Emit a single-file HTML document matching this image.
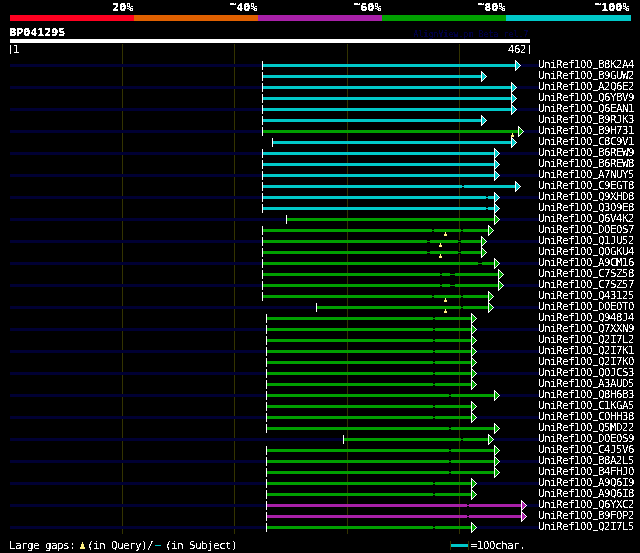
<!DOCTYPE html><html><head><meta charset="utf-8"><title>AlignView</title><style>html,body{margin:0;padding:0;background:#000;overflow:hidden}svg{display:block}text{white-space:pre;font-family:"DejaVu Sans Mono","Liberation Mono",monospace}.b{font-weight:bold;font-size:11px;fill:#fff}.r{font-size:11px;fill:#fff}.pp{font-size:9px}.dg{font-family:"DejaVu Sans","Liberation Sans",sans-serif;font-size:10px}.us{stroke:#fff;stroke-width:0.7px;font-size:8px}.tn{font-size:8px;fill:#000040}</style></head><body>
<svg width="640" height="553" viewBox="0 0 640 553">
<defs><filter id="crisp" x="0" y="0" width="100%" height="100%"><feComponentTransfer><feFuncA type="discrete" tableValues="0 0 0 1 1 1 1 1 1 1"/></feComponentTransfer></filter><filter id="crisp5" x="0" y="0" width="100%" height="100%"><feComponentTransfer><feFuncA type="discrete" tableValues="0 1"/></feComponentTransfer></filter><filter id="crisp2" x="0" y="0" width="100%" height="100%"><feComponentTransfer><feFuncA type="discrete" tableValues="0 1 1 1 1"/></feComponentTransfer></filter></defs>
<rect width="640" height="553" fill="#000"/>
<g shape-rendering="crispEdges"><rect x="10" y="15" width="124" height="6" fill="#ff0020"/><rect x="134" y="15" width="124" height="6" fill="#e06000"/><rect x="258" y="15" width="124" height="6" fill="#a820a8"/><rect x="382" y="15" width="124" height="6" fill="#00a000"/><rect x="506" y="15" width="125" height="6" fill="#00c8c8"/><rect x="10" y="39" width="520" height="4" fill="#fff"/><rect x="122" y="44" width="1" height="490" fill="#333300"/><rect x="234" y="44" width="1" height="490" fill="#333300"/><rect x="347" y="44" width="1" height="490" fill="#333300"/><rect x="459" y="44" width="1" height="490" fill="#333300"/><rect x="10" y="64" width="529" height="3" fill="#000033"/><rect x="263" y="64" width="252" height="3" fill="#00c8c8"/><rect x="262" y="61" width="1" height="9" fill="#fff"/><rect x="263" y="75" width="218" height="3" fill="#00c8c8"/><rect x="262" y="72" width="1" height="9" fill="#fff"/><rect x="10" y="86" width="529" height="3" fill="#000033"/><rect x="263" y="86" width="248" height="3" fill="#00c8c8"/><rect x="262" y="83" width="1" height="9" fill="#fff"/><rect x="263" y="97" width="248" height="3" fill="#00c8c8"/><rect x="262" y="94" width="1" height="9" fill="#fff"/><rect x="10" y="108" width="529" height="3" fill="#000033"/><rect x="263" y="108" width="248" height="3" fill="#00c8c8"/><rect x="262" y="105" width="1" height="9" fill="#fff"/><rect x="263" y="119" width="218" height="3" fill="#00c8c8"/><rect x="262" y="116" width="1" height="9" fill="#fff"/><rect x="10" y="130" width="529" height="3" fill="#000033"/><rect x="263" y="130" width="255" height="3" fill="#00a000"/><rect x="262" y="127" width="1" height="9" fill="#fff"/><rect x="512" y="133" width="1" height="2" fill="#fff080"/><rect x="511" y="135" width="3" height="2" fill="#fff080"/><rect x="273" y="141" width="238" height="3" fill="#00c8c8"/><rect x="272" y="138" width="1" height="9" fill="#fff"/><rect x="10" y="152" width="529" height="3" fill="#000033"/><rect x="263" y="152" width="231" height="3" fill="#00c8c8"/><rect x="262" y="149" width="1" height="9" fill="#fff"/><rect x="263" y="163" width="231" height="3" fill="#00c8c8"/><rect x="262" y="160" width="1" height="9" fill="#fff"/><rect x="10" y="174" width="529" height="3" fill="#000033"/><rect x="263" y="174" width="231" height="3" fill="#00c8c8"/><rect x="262" y="171" width="1" height="9" fill="#fff"/><rect x="263" y="185" width="252" height="3" fill="#00c8c8"/><rect x="462" y="185" width="2" height="3" fill="#000"/><rect x="462" y="186" width="2" height="1" fill="#00c8c8"/><rect x="262" y="182" width="1" height="9" fill="#fff"/><rect x="10" y="196" width="529" height="3" fill="#000033"/><rect x="263" y="196" width="231" height="3" fill="#00c8c8"/><rect x="486" y="196" width="2" height="3" fill="#000"/><rect x="486" y="197" width="2" height="1" fill="#00c8c8"/><rect x="262" y="193" width="1" height="9" fill="#fff"/><rect x="263" y="207" width="231" height="3" fill="#00c8c8"/><rect x="486" y="207" width="2" height="3" fill="#000"/><rect x="486" y="208" width="2" height="1" fill="#00c8c8"/><rect x="262" y="204" width="1" height="9" fill="#fff"/><rect x="10" y="218" width="529" height="3" fill="#000033"/><rect x="287" y="218" width="207" height="3" fill="#00a000"/><rect x="286" y="215" width="1" height="9" fill="#fff"/><rect x="263" y="229" width="225" height="3" fill="#00a000"/><rect x="432" y="229" width="2" height="3" fill="#000"/><rect x="432" y="230" width="2" height="1" fill="#00a000"/><rect x="461" y="229" width="2" height="3" fill="#000"/><rect x="461" y="230" width="2" height="1" fill="#00a000"/><rect x="262" y="226" width="1" height="9" fill="#fff"/><rect x="445" y="232" width="1" height="2" fill="#fff080"/><rect x="444" y="234" width="3" height="2" fill="#fff080"/><rect x="10" y="240" width="529" height="3" fill="#000033"/><rect x="263" y="240" width="218" height="3" fill="#00a000"/><rect x="427" y="240" width="3" height="3" fill="#000"/><rect x="427" y="241" width="3" height="1" fill="#00a000"/><rect x="458" y="240" width="3" height="3" fill="#000"/><rect x="458" y="241" width="3" height="1" fill="#00a000"/><rect x="262" y="237" width="1" height="9" fill="#fff"/><rect x="440" y="243" width="1" height="2" fill="#fff080"/><rect x="439" y="245" width="3" height="2" fill="#fff080"/><rect x="263" y="251" width="218" height="3" fill="#00a000"/><rect x="427" y="251" width="3" height="3" fill="#000"/><rect x="427" y="252" width="3" height="1" fill="#00a000"/><rect x="458" y="251" width="3" height="3" fill="#000"/><rect x="458" y="252" width="3" height="1" fill="#00a000"/><rect x="262" y="248" width="1" height="9" fill="#fff"/><rect x="440" y="254" width="1" height="2" fill="#fff080"/><rect x="439" y="256" width="3" height="2" fill="#fff080"/><rect x="10" y="262" width="529" height="3" fill="#000033"/><rect x="263" y="262" width="231" height="3" fill="#00a000"/><rect x="478" y="262" width="4" height="3" fill="#000"/><rect x="478" y="263" width="4" height="1" fill="#00a000"/><rect x="262" y="259" width="1" height="9" fill="#fff"/><rect x="263" y="273" width="235" height="3" fill="#00a000"/><rect x="440" y="273" width="2" height="3" fill="#000"/><rect x="440" y="274" width="2" height="1" fill="#00a000"/><rect x="450" y="273" width="5" height="3" fill="#000"/><rect x="450" y="274" width="5" height="1" fill="#00a000"/><rect x="262" y="270" width="1" height="9" fill="#fff"/><rect x="10" y="284" width="529" height="3" fill="#000033"/><rect x="263" y="284" width="235" height="3" fill="#00a000"/><rect x="440" y="284" width="2" height="3" fill="#000"/><rect x="440" y="285" width="2" height="1" fill="#00a000"/><rect x="450" y="284" width="5" height="3" fill="#000"/><rect x="450" y="285" width="5" height="1" fill="#00a000"/><rect x="262" y="281" width="1" height="9" fill="#fff"/><rect x="263" y="295" width="225" height="3" fill="#00a000"/><rect x="432" y="295" width="2" height="3" fill="#000"/><rect x="432" y="296" width="2" height="1" fill="#00a000"/><rect x="461" y="295" width="2" height="3" fill="#000"/><rect x="461" y="296" width="2" height="1" fill="#00a000"/><rect x="262" y="292" width="1" height="9" fill="#fff"/><rect x="445" y="298" width="1" height="2" fill="#fff080"/><rect x="444" y="300" width="3" height="2" fill="#fff080"/><rect x="10" y="306" width="529" height="3" fill="#000033"/><rect x="317" y="306" width="171" height="3" fill="#00a000"/><rect x="461" y="306" width="2" height="3" fill="#000"/><rect x="461" y="307" width="2" height="1" fill="#00a000"/><rect x="316" y="303" width="1" height="9" fill="#fff"/><rect x="445" y="309" width="1" height="2" fill="#fff080"/><rect x="444" y="311" width="3" height="2" fill="#fff080"/><rect x="267" y="317" width="204" height="3" fill="#00a000"/><rect x="433" y="317" width="2" height="3" fill="#000"/><rect x="433" y="318" width="2" height="1" fill="#00a000"/><rect x="266" y="314" width="1" height="9" fill="#fff"/><rect x="10" y="328" width="529" height="3" fill="#000033"/><rect x="267" y="328" width="204" height="3" fill="#00a000"/><rect x="433" y="328" width="2" height="3" fill="#000"/><rect x="433" y="329" width="2" height="1" fill="#00a000"/><rect x="266" y="325" width="1" height="9" fill="#fff"/><rect x="267" y="339" width="204" height="3" fill="#00a000"/><rect x="433" y="339" width="2" height="3" fill="#000"/><rect x="433" y="340" width="2" height="1" fill="#00a000"/><rect x="266" y="336" width="1" height="9" fill="#fff"/><rect x="10" y="350" width="529" height="3" fill="#000033"/><rect x="267" y="350" width="204" height="3" fill="#00a000"/><rect x="433" y="350" width="2" height="3" fill="#000"/><rect x="433" y="351" width="2" height="1" fill="#00a000"/><rect x="266" y="347" width="1" height="9" fill="#fff"/><rect x="267" y="361" width="204" height="3" fill="#00a000"/><rect x="433" y="361" width="2" height="3" fill="#000"/><rect x="433" y="362" width="2" height="1" fill="#00a000"/><rect x="266" y="358" width="1" height="9" fill="#fff"/><rect x="10" y="372" width="529" height="3" fill="#000033"/><rect x="267" y="372" width="204" height="3" fill="#00a000"/><rect x="433" y="372" width="2" height="3" fill="#000"/><rect x="433" y="373" width="2" height="1" fill="#00a000"/><rect x="266" y="369" width="1" height="9" fill="#fff"/><rect x="267" y="383" width="204" height="3" fill="#00a000"/><rect x="433" y="383" width="2" height="3" fill="#000"/><rect x="433" y="384" width="2" height="1" fill="#00a000"/><rect x="266" y="380" width="1" height="9" fill="#fff"/><rect x="10" y="394" width="529" height="3" fill="#000033"/><rect x="267" y="394" width="227" height="3" fill="#00a000"/><rect x="449" y="394" width="2" height="3" fill="#000"/><rect x="449" y="395" width="2" height="1" fill="#00a000"/><rect x="266" y="391" width="1" height="9" fill="#fff"/><rect x="267" y="405" width="204" height="3" fill="#00a000"/><rect x="433" y="405" width="2" height="3" fill="#000"/><rect x="433" y="406" width="2" height="1" fill="#00a000"/><rect x="266" y="402" width="1" height="9" fill="#fff"/><rect x="10" y="416" width="529" height="3" fill="#000033"/><rect x="267" y="416" width="204" height="3" fill="#00a000"/><rect x="433" y="416" width="2" height="3" fill="#000"/><rect x="433" y="417" width="2" height="1" fill="#00a000"/><rect x="266" y="413" width="1" height="9" fill="#fff"/><rect x="267" y="427" width="227" height="3" fill="#00a000"/><rect x="449" y="427" width="2" height="3" fill="#000"/><rect x="449" y="428" width="2" height="1" fill="#00a000"/><rect x="266" y="424" width="1" height="9" fill="#fff"/><rect x="10" y="438" width="529" height="3" fill="#000033"/><rect x="344" y="438" width="144" height="3" fill="#00a000"/><rect x="461" y="438" width="2" height="3" fill="#000"/><rect x="461" y="439" width="2" height="1" fill="#00a000"/><rect x="343" y="435" width="1" height="9" fill="#fff"/><rect x="267" y="449" width="227" height="3" fill="#00a000"/><rect x="449" y="449" width="2" height="3" fill="#000"/><rect x="449" y="450" width="2" height="1" fill="#00a000"/><rect x="266" y="446" width="1" height="9" fill="#fff"/><rect x="10" y="460" width="529" height="3" fill="#000033"/><rect x="267" y="460" width="227" height="3" fill="#00a000"/><rect x="449" y="460" width="2" height="3" fill="#000"/><rect x="449" y="461" width="2" height="1" fill="#00a000"/><rect x="266" y="457" width="1" height="9" fill="#fff"/><rect x="267" y="471" width="227" height="3" fill="#00a000"/><rect x="449" y="471" width="2" height="3" fill="#000"/><rect x="449" y="472" width="2" height="1" fill="#00a000"/><rect x="266" y="468" width="1" height="9" fill="#fff"/><rect x="10" y="482" width="529" height="3" fill="#000033"/><rect x="267" y="482" width="204" height="3" fill="#00a000"/><rect x="433" y="482" width="2" height="3" fill="#000"/><rect x="433" y="483" width="2" height="1" fill="#00a000"/><rect x="266" y="479" width="1" height="9" fill="#fff"/><rect x="267" y="493" width="204" height="3" fill="#00a000"/><rect x="433" y="493" width="2" height="3" fill="#000"/><rect x="433" y="494" width="2" height="1" fill="#00a000"/><rect x="266" y="490" width="1" height="9" fill="#fff"/><rect x="10" y="504" width="529" height="3" fill="#000033"/><rect x="267" y="504" width="254" height="3" fill="#a820a8"/><rect x="467" y="504" width="2" height="3" fill="#000"/><rect x="467" y="505" width="2" height="1" fill="#a820a8"/><rect x="266" y="501" width="1" height="9" fill="#fff"/><rect x="267" y="515" width="254" height="3" fill="#a820a8"/><rect x="467" y="515" width="2" height="3" fill="#000"/><rect x="467" y="516" width="2" height="1" fill="#a820a8"/><rect x="266" y="512" width="1" height="9" fill="#fff"/><rect x="10" y="526" width="529" height="3" fill="#000033"/><rect x="267" y="526" width="204" height="3" fill="#00a000"/><rect x="433" y="526" width="2" height="3" fill="#000"/><rect x="433" y="527" width="2" height="1" fill="#00a000"/><rect x="266" y="523" width="1" height="9" fill="#fff"/></g>
<g shape-rendering="crispEdges"><path d="M515,60h1v1h1v1h1v1h1v1h1v1h1v1h-1v1h-1v1h-1v1h-1v1h-1v1h-1z" fill="#fff"/><path d="M516,62h1v1h1v1h1v1h1v1h-1v1h-1v1h-1v1h-1z" fill="#00c8c8"/><path d="M481,71h1v1h1v1h1v1h1v1h1v1h1v1h-1v1h-1v1h-1v1h-1v1h-1v1h-1z" fill="#fff"/><path d="M482,73h1v1h1v1h1v1h1v1h-1v1h-1v1h-1v1h-1z" fill="#00c8c8"/><path d="M511,82h1v1h1v1h1v1h1v1h1v1h1v1h-1v1h-1v1h-1v1h-1v1h-1v1h-1z" fill="#fff"/><path d="M512,84h1v1h1v1h1v1h1v1h-1v1h-1v1h-1v1h-1z" fill="#00c8c8"/><path d="M511,93h1v1h1v1h1v1h1v1h1v1h1v1h-1v1h-1v1h-1v1h-1v1h-1v1h-1z" fill="#fff"/><path d="M512,95h1v1h1v1h1v1h1v1h-1v1h-1v1h-1v1h-1z" fill="#00c8c8"/><path d="M511,104h1v1h1v1h1v1h1v1h1v1h1v1h-1v1h-1v1h-1v1h-1v1h-1v1h-1z" fill="#fff"/><path d="M512,106h1v1h1v1h1v1h1v1h-1v1h-1v1h-1v1h-1z" fill="#00c8c8"/><path d="M481,115h1v1h1v1h1v1h1v1h1v1h1v1h-1v1h-1v1h-1v1h-1v1h-1v1h-1z" fill="#fff"/><path d="M482,117h1v1h1v1h1v1h1v1h-1v1h-1v1h-1v1h-1z" fill="#00c8c8"/><path d="M518,126h1v1h1v1h1v1h1v1h1v1h1v1h-1v1h-1v1h-1v1h-1v1h-1v1h-1z" fill="#fff"/><path d="M519,128h1v1h1v1h1v1h1v1h-1v1h-1v1h-1v1h-1z" fill="#00a000"/><path d="M511,137h1v1h1v1h1v1h1v1h1v1h1v1h-1v1h-1v1h-1v1h-1v1h-1v1h-1z" fill="#fff"/><path d="M512,139h1v1h1v1h1v1h1v1h-1v1h-1v1h-1v1h-1z" fill="#00c8c8"/><path d="M494,148h1v1h1v1h1v1h1v1h1v1h1v1h-1v1h-1v1h-1v1h-1v1h-1v1h-1z" fill="#fff"/><path d="M495,150h1v1h1v1h1v1h1v1h-1v1h-1v1h-1v1h-1z" fill="#00c8c8"/><path d="M494,159h1v1h1v1h1v1h1v1h1v1h1v1h-1v1h-1v1h-1v1h-1v1h-1v1h-1z" fill="#fff"/><path d="M495,161h1v1h1v1h1v1h1v1h-1v1h-1v1h-1v1h-1z" fill="#00c8c8"/><path d="M494,170h1v1h1v1h1v1h1v1h1v1h1v1h-1v1h-1v1h-1v1h-1v1h-1v1h-1z" fill="#fff"/><path d="M495,172h1v1h1v1h1v1h1v1h-1v1h-1v1h-1v1h-1z" fill="#00c8c8"/><path d="M515,181h1v1h1v1h1v1h1v1h1v1h1v1h-1v1h-1v1h-1v1h-1v1h-1v1h-1z" fill="#fff"/><path d="M516,183h1v1h1v1h1v1h1v1h-1v1h-1v1h-1v1h-1z" fill="#00c8c8"/><path d="M494,192h1v1h1v1h1v1h1v1h1v1h1v1h-1v1h-1v1h-1v1h-1v1h-1v1h-1z" fill="#fff"/><path d="M495,194h1v1h1v1h1v1h1v1h-1v1h-1v1h-1v1h-1z" fill="#00c8c8"/><path d="M494,203h1v1h1v1h1v1h1v1h1v1h1v1h-1v1h-1v1h-1v1h-1v1h-1v1h-1z" fill="#fff"/><path d="M495,205h1v1h1v1h1v1h1v1h-1v1h-1v1h-1v1h-1z" fill="#00c8c8"/><path d="M494,214h1v1h1v1h1v1h1v1h1v1h1v1h-1v1h-1v1h-1v1h-1v1h-1v1h-1z" fill="#fff"/><path d="M495,216h1v1h1v1h1v1h1v1h-1v1h-1v1h-1v1h-1z" fill="#00a000"/><path d="M488,225h1v1h1v1h1v1h1v1h1v1h1v1h-1v1h-1v1h-1v1h-1v1h-1v1h-1z" fill="#fff"/><path d="M489,227h1v1h1v1h1v1h1v1h-1v1h-1v1h-1v1h-1z" fill="#00a000"/><path d="M481,236h1v1h1v1h1v1h1v1h1v1h1v1h-1v1h-1v1h-1v1h-1v1h-1v1h-1z" fill="#fff"/><path d="M482,238h1v1h1v1h1v1h1v1h-1v1h-1v1h-1v1h-1z" fill="#00a000"/><path d="M481,247h1v1h1v1h1v1h1v1h1v1h1v1h-1v1h-1v1h-1v1h-1v1h-1v1h-1z" fill="#fff"/><path d="M482,249h1v1h1v1h1v1h1v1h-1v1h-1v1h-1v1h-1z" fill="#00a000"/><path d="M494,258h1v1h1v1h1v1h1v1h1v1h1v1h-1v1h-1v1h-1v1h-1v1h-1v1h-1z" fill="#fff"/><path d="M495,260h1v1h1v1h1v1h1v1h-1v1h-1v1h-1v1h-1z" fill="#00a000"/><path d="M498,269h1v1h1v1h1v1h1v1h1v1h1v1h-1v1h-1v1h-1v1h-1v1h-1v1h-1z" fill="#fff"/><path d="M499,271h1v1h1v1h1v1h1v1h-1v1h-1v1h-1v1h-1z" fill="#00a000"/><path d="M498,280h1v1h1v1h1v1h1v1h1v1h1v1h-1v1h-1v1h-1v1h-1v1h-1v1h-1z" fill="#fff"/><path d="M499,282h1v1h1v1h1v1h1v1h-1v1h-1v1h-1v1h-1z" fill="#00a000"/><path d="M488,291h1v1h1v1h1v1h1v1h1v1h1v1h-1v1h-1v1h-1v1h-1v1h-1v1h-1z" fill="#fff"/><path d="M489,293h1v1h1v1h1v1h1v1h-1v1h-1v1h-1v1h-1z" fill="#00a000"/><path d="M488,302h1v1h1v1h1v1h1v1h1v1h1v1h-1v1h-1v1h-1v1h-1v1h-1v1h-1z" fill="#fff"/><path d="M489,304h1v1h1v1h1v1h1v1h-1v1h-1v1h-1v1h-1z" fill="#00a000"/><path d="M471,313h1v1h1v1h1v1h1v1h1v1h1v1h-1v1h-1v1h-1v1h-1v1h-1v1h-1z" fill="#fff"/><path d="M472,315h1v1h1v1h1v1h1v1h-1v1h-1v1h-1v1h-1z" fill="#00a000"/><path d="M471,324h1v1h1v1h1v1h1v1h1v1h1v1h-1v1h-1v1h-1v1h-1v1h-1v1h-1z" fill="#fff"/><path d="M472,326h1v1h1v1h1v1h1v1h-1v1h-1v1h-1v1h-1z" fill="#00a000"/><path d="M471,335h1v1h1v1h1v1h1v1h1v1h1v1h-1v1h-1v1h-1v1h-1v1h-1v1h-1z" fill="#fff"/><path d="M472,337h1v1h1v1h1v1h1v1h-1v1h-1v1h-1v1h-1z" fill="#00a000"/><path d="M471,346h1v1h1v1h1v1h1v1h1v1h1v1h-1v1h-1v1h-1v1h-1v1h-1v1h-1z" fill="#fff"/><path d="M472,348h1v1h1v1h1v1h1v1h-1v1h-1v1h-1v1h-1z" fill="#00a000"/><path d="M471,357h1v1h1v1h1v1h1v1h1v1h1v1h-1v1h-1v1h-1v1h-1v1h-1v1h-1z" fill="#fff"/><path d="M472,359h1v1h1v1h1v1h1v1h-1v1h-1v1h-1v1h-1z" fill="#00a000"/><path d="M471,368h1v1h1v1h1v1h1v1h1v1h1v1h-1v1h-1v1h-1v1h-1v1h-1v1h-1z" fill="#fff"/><path d="M472,370h1v1h1v1h1v1h1v1h-1v1h-1v1h-1v1h-1z" fill="#00a000"/><path d="M471,379h1v1h1v1h1v1h1v1h1v1h1v1h-1v1h-1v1h-1v1h-1v1h-1v1h-1z" fill="#fff"/><path d="M472,381h1v1h1v1h1v1h1v1h-1v1h-1v1h-1v1h-1z" fill="#00a000"/><path d="M494,390h1v1h1v1h1v1h1v1h1v1h1v1h-1v1h-1v1h-1v1h-1v1h-1v1h-1z" fill="#fff"/><path d="M495,392h1v1h1v1h1v1h1v1h-1v1h-1v1h-1v1h-1z" fill="#00a000"/><path d="M471,401h1v1h1v1h1v1h1v1h1v1h1v1h-1v1h-1v1h-1v1h-1v1h-1v1h-1z" fill="#fff"/><path d="M472,403h1v1h1v1h1v1h1v1h-1v1h-1v1h-1v1h-1z" fill="#00a000"/><path d="M471,412h1v1h1v1h1v1h1v1h1v1h1v1h-1v1h-1v1h-1v1h-1v1h-1v1h-1z" fill="#fff"/><path d="M472,414h1v1h1v1h1v1h1v1h-1v1h-1v1h-1v1h-1z" fill="#00a000"/><path d="M494,423h1v1h1v1h1v1h1v1h1v1h1v1h-1v1h-1v1h-1v1h-1v1h-1v1h-1z" fill="#fff"/><path d="M495,425h1v1h1v1h1v1h1v1h-1v1h-1v1h-1v1h-1z" fill="#00a000"/><path d="M488,434h1v1h1v1h1v1h1v1h1v1h1v1h-1v1h-1v1h-1v1h-1v1h-1v1h-1z" fill="#fff"/><path d="M489,436h1v1h1v1h1v1h1v1h-1v1h-1v1h-1v1h-1z" fill="#00a000"/><path d="M494,445h1v1h1v1h1v1h1v1h1v1h1v1h-1v1h-1v1h-1v1h-1v1h-1v1h-1z" fill="#fff"/><path d="M495,447h1v1h1v1h1v1h1v1h-1v1h-1v1h-1v1h-1z" fill="#00a000"/><path d="M494,456h1v1h1v1h1v1h1v1h1v1h1v1h-1v1h-1v1h-1v1h-1v1h-1v1h-1z" fill="#fff"/><path d="M495,458h1v1h1v1h1v1h1v1h-1v1h-1v1h-1v1h-1z" fill="#00a000"/><path d="M494,467h1v1h1v1h1v1h1v1h1v1h1v1h-1v1h-1v1h-1v1h-1v1h-1v1h-1z" fill="#fff"/><path d="M495,469h1v1h1v1h1v1h1v1h-1v1h-1v1h-1v1h-1z" fill="#00a000"/><path d="M471,478h1v1h1v1h1v1h1v1h1v1h1v1h-1v1h-1v1h-1v1h-1v1h-1v1h-1z" fill="#fff"/><path d="M472,480h1v1h1v1h1v1h1v1h-1v1h-1v1h-1v1h-1z" fill="#00a000"/><path d="M471,489h1v1h1v1h1v1h1v1h1v1h1v1h-1v1h-1v1h-1v1h-1v1h-1v1h-1z" fill="#fff"/><path d="M472,491h1v1h1v1h1v1h1v1h-1v1h-1v1h-1v1h-1z" fill="#00a000"/><path d="M521,500h1v1h1v1h1v1h1v1h1v1h1v1h-1v1h-1v1h-1v1h-1v1h-1v1h-1z" fill="#fff"/><path d="M522,502h1v1h1v1h1v1h1v1h-1v1h-1v1h-1v1h-1z" fill="#a820a8"/><path d="M521,511h1v1h1v1h1v1h1v1h1v1h1v1h-1v1h-1v1h-1v1h-1v1h-1v1h-1z" fill="#fff"/><path d="M522,513h1v1h1v1h1v1h1v1h-1v1h-1v1h-1v1h-1z" fill="#a820a8"/><path d="M471,522h1v1h1v1h1v1h1v1h1v1h1v1h-1v1h-1v1h-1v1h-1v1h-1v1h-1z" fill="#fff"/><path d="M472,524h1v1h1v1h1v1h1v1h-1v1h-1v1h-1v1h-1z" fill="#00a000"/></g>
<g filter="url(#crisp)"><text class="tn" x="413.5 418.5 423.5 428.5 433.5 438.5 443.5 448.5 453.5 458.5 463.5 468.5 473.5 478.5 483.5 488.5 493.5 498.5 503.5 508.5 513.5 518.5 523.5" y="37">AlignView.pm Beta rel.7</text></g>
<g shape-rendering="crispEdges"><path d="M82,542h1v2h1v3h1v2h-5v-2h1v-3h1z" fill="#fff080"/><rect x="155" y="545" width="6" height="1" fill="#00c8c8"/><rect x="450" y="541" width="1" height="9" fill="#333300"/><rect x="468" y="541" width="1" height="9" fill="#333300"/><rect x="451" y="544" width="17" height="3" fill="#00c8c8"/></g>
<g filter="url(#crisp)"><text class="b" x="112.5 119.5 126.5" y="11">20%</text><text class="b" x="229.5 236.5 243.5 250.5" y="7.5 11 11 11">~40%</text><text class="b" x="353.5 360.5 367.5 374.5" y="7.5 11 11 11">~60%</text><text class="b" x="477.5 484.5 491.5 498.5" y="7.5 11 11 11">~80%</text><text class="b" x="594.5 601.5 608.5 615.5 622.5" y="7.5 11 11 11 11">~100%</text><text class="b" x="9.5 16.5 23.5 30.5 37.5 44.5 51.5 58.5" y="36">BP041295</text></g>
<g filter="url(#crisp5)"><text class="r" x="8 13" y="52 53"><tspan class="pp">|</tspan><tspan class="dg">1</tspan></text><text class="r" x="508 514 520 527" y="53 53 53 52"><tspan class="dg">462</tspan><tspan class="pp">|</tspan></text><text class="r" x="538 544 550 556 562 568 574 580 586 593 598 604 610 616 622 628" y="68 68 68 68 68 68 68 68 68 67.4 68 68 68 68 68 68">UniRef<tspan class="dg">100</tspan><tspan class="us">_</tspan>B<tspan class="dg">8</tspan>K<tspan class="dg">2</tspan>A<tspan class="dg">4</tspan></text><text class="r" x="538 544 550 556 562 568 574 580 586 593 598 604 610 616 622 628" y="79 79 79 79 79 79 79 79 79 78.4 79 79 79 79 79 79">UniRef<tspan class="dg">100</tspan><tspan class="us">_</tspan>B<tspan class="dg">9</tspan>GUW<tspan class="dg">2</tspan></text><text class="r" x="538 544 550 556 562 568 574 580 586 593 598 604 610 616 622 628" y="90 90 90 90 90 90 90 90 90 89.4 90 90 90 90 90 90">UniRef<tspan class="dg">100</tspan><tspan class="us">_</tspan>A<tspan class="dg">2</tspan>Q<tspan class="dg">6</tspan>E<tspan class="dg">2</tspan></text><text class="r" x="538 544 550 556 562 568 574 580 586 593 598 604 610 616 622 628" y="101 101 101 101 101 101 101 101 101 100.4 101 101 101 101 101 101">UniRef<tspan class="dg">100</tspan><tspan class="us">_</tspan>Q<tspan class="dg">6</tspan>YBV<tspan class="dg">9</tspan></text><text class="r" x="538 544 550 556 562 568 574 580 586 593 598 604 610 616 622 628" y="112 112 112 112 112 112 112 112 112 111.4 112 112 112 112 112 112">UniRef<tspan class="dg">100</tspan><tspan class="us">_</tspan>Q<tspan class="dg">6</tspan>EAN<tspan class="dg">1</tspan></text><text class="r" x="538 544 550 556 562 568 574 580 586 593 598 604 610 616 622 628" y="123 123 123 123 123 123 123 123 123 122.4 123 123 123 123 123 123">UniRef<tspan class="dg">100</tspan><tspan class="us">_</tspan>B<tspan class="dg">9</tspan>RJK<tspan class="dg">3</tspan></text><text class="r" x="538 544 550 556 562 568 574 580 586 593 598 604 610 616 622 628" y="134 134 134 134 134 134 134 134 134 133.4 134 134 134 134 134 134">UniRef<tspan class="dg">100</tspan><tspan class="us">_</tspan>B<tspan class="dg">9</tspan>H<tspan class="dg">731</tspan></text><text class="r" x="538 544 550 556 562 568 574 580 586 593 598 604 610 616 622 628" y="145 145 145 145 145 145 145 145 145 144.4 145 145 145 145 145 145">UniRef<tspan class="dg">100</tspan><tspan class="us">_</tspan>C<tspan class="dg">8</tspan>C<tspan class="dg">9</tspan>V<tspan class="dg">1</tspan></text><text class="r" x="538 544 550 556 562 568 574 580 586 593 598 604 610 616 622 628" y="156 156 156 156 156 156 156 156 156 155.4 156 156 156 156 156 156">UniRef<tspan class="dg">100</tspan><tspan class="us">_</tspan>B<tspan class="dg">6</tspan>REW<tspan class="dg">9</tspan></text><text class="r" x="538 544 550 556 562 568 574 580 586 593 598 604 610 616 622 628" y="167 167 167 167 167 167 167 167 167 166.4 167 167 167 167 167 167">UniRef<tspan class="dg">100</tspan><tspan class="us">_</tspan>B<tspan class="dg">6</tspan>REW<tspan class="dg">8</tspan></text><text class="r" x="538 544 550 556 562 568 574 580 586 593 598 604 610 616 622 628" y="178 178 178 178 178 178 178 178 178 177.4 178 178 178 178 178 178">UniRef<tspan class="dg">100</tspan><tspan class="us">_</tspan>A<tspan class="dg">7</tspan>NUY<tspan class="dg">5</tspan></text><text class="r" x="538 544 550 556 562 568 574 580 586 593 598 604 610 616 622 628" y="189 189 189 189 189 189 189 189 189 188.4 189 189 189 189 189 189">UniRef<tspan class="dg">100</tspan><tspan class="us">_</tspan>C<tspan class="dg">9</tspan>EGT<tspan class="dg">8</tspan></text><text class="r" x="538 544 550 556 562 568 574 580 586 593 598 604 610 616 622 628" y="200 200 200 200 200 200 200 200 200 199.4 200 200 200 200 200 200">UniRef<tspan class="dg">100</tspan><tspan class="us">_</tspan>Q<tspan class="dg">9</tspan>XHD<tspan class="dg">8</tspan></text><text class="r" x="538 544 550 556 562 568 574 580 586 593 598 604 610 616 622 628" y="211 211 211 211 211 211 211 211 211 210.4 211 211 211 211 211 211">UniRef<tspan class="dg">100</tspan><tspan class="us">_</tspan>Q<tspan class="dg">309</tspan>E<tspan class="dg">8</tspan></text><text class="r" x="538 544 550 556 562 568 574 580 586 593 598 604 610 616 622 628" y="222 222 222 222 222 222 222 222 222 221.4 222 222 222 222 222 222">UniRef<tspan class="dg">100</tspan><tspan class="us">_</tspan>Q<tspan class="dg">6</tspan>V<tspan class="dg">4</tspan>K<tspan class="dg">2</tspan></text><text class="r" x="538 544 550 556 562 568 574 580 586 593 598 604 610 616 622 628" y="233 233 233 233 233 233 233 233 233 232.4 233 233 233 233 233 233">UniRef<tspan class="dg">100</tspan><tspan class="us">_</tspan>D<tspan class="dg">0</tspan>E<tspan class="dg">0</tspan>S<tspan class="dg">7</tspan></text><text class="r" x="538 544 550 556 562 568 574 580 586 593 598 604 610 616 622 628" y="244 244 244 244 244 244 244 244 244 243.4 244 244 244 244 244 244">UniRef<tspan class="dg">100</tspan><tspan class="us">_</tspan>Q<tspan class="dg">1</tspan>JU<tspan class="dg">52</tspan></text><text class="r" x="538 544 550 556 562 568 574 580 586 593 598 604 610 616 622 628" y="255 255 255 255 255 255 255 255 255 254.4 255 255 255 255 255 255">UniRef<tspan class="dg">100</tspan><tspan class="us">_</tspan>Q<tspan class="dg">0</tspan>GKU<tspan class="dg">4</tspan></text><text class="r" x="538 544 550 556 562 568 574 580 586 593 598 604 610 616 622 628" y="266 266 266 266 266 266 266 266 266 265.4 266 266 266 266 266 266">UniRef<tspan class="dg">100</tspan><tspan class="us">_</tspan>A<tspan class="dg">9</tspan>CM<tspan class="dg">16</tspan></text><text class="r" x="538 544 550 556 562 568 574 580 586 593 598 604 610 616 622 628" y="277 277 277 277 277 277 277 277 277 276.4 277 277 277 277 277 277">UniRef<tspan class="dg">100</tspan><tspan class="us">_</tspan>C<tspan class="dg">7</tspan>SZ<tspan class="dg">58</tspan></text><text class="r" x="538 544 550 556 562 568 574 580 586 593 598 604 610 616 622 628" y="288 288 288 288 288 288 288 288 288 287.4 288 288 288 288 288 288">UniRef<tspan class="dg">100</tspan><tspan class="us">_</tspan>C<tspan class="dg">7</tspan>SZ<tspan class="dg">57</tspan></text><text class="r" x="538 544 550 556 562 568 574 580 586 593 598 604 610 616 622 628" y="299 299 299 299 299 299 299 299 299 298.4 299 299 299 299 299 299">UniRef<tspan class="dg">100</tspan><tspan class="us">_</tspan>Q<tspan class="dg">43125</tspan></text><text class="r" x="538 544 550 556 562 568 574 580 586 593 598 604 610 616 622 628" y="310 310 310 310 310 310 310 310 310 309.4 310 310 310 310 310 310">UniRef<tspan class="dg">100</tspan><tspan class="us">_</tspan>D<tspan class="dg">0</tspan>E<tspan class="dg">0</tspan>T<tspan class="dg">0</tspan></text><text class="r" x="538 544 550 556 562 568 574 580 586 593 598 604 610 616 622 628" y="321 321 321 321 321 321 321 321 321 320.4 321 321 321 321 321 321">UniRef<tspan class="dg">100</tspan><tspan class="us">_</tspan>Q<tspan class="dg">948</tspan>J<tspan class="dg">4</tspan></text><text class="r" x="538 544 550 556 562 568 574 580 586 593 598 604 610 616 622 628" y="332 332 332 332 332 332 332 332 332 331.4 332 332 332 332 332 332">UniRef<tspan class="dg">100</tspan><tspan class="us">_</tspan>Q<tspan class="dg">7</tspan>XXN<tspan class="dg">9</tspan></text><text class="r" x="538 544 550 556 562 568 574 580 586 593 598 604 610 616 622 628" y="343 343 343 343 343 343 343 343 343 342.4 343 343 343 343 343 343">UniRef<tspan class="dg">100</tspan><tspan class="us">_</tspan>Q<tspan class="dg">2</tspan>I<tspan class="dg">7</tspan>L<tspan class="dg">2</tspan></text><text class="r" x="538 544 550 556 562 568 574 580 586 593 598 604 610 616 622 628" y="354 354 354 354 354 354 354 354 354 353.4 354 354 354 354 354 354">UniRef<tspan class="dg">100</tspan><tspan class="us">_</tspan>Q<tspan class="dg">2</tspan>I<tspan class="dg">7</tspan>K<tspan class="dg">1</tspan></text><text class="r" x="538 544 550 556 562 568 574 580 586 593 598 604 610 616 622 628" y="365 365 365 365 365 365 365 365 365 364.4 365 365 365 365 365 365">UniRef<tspan class="dg">100</tspan><tspan class="us">_</tspan>Q<tspan class="dg">2</tspan>I<tspan class="dg">7</tspan>K<tspan class="dg">0</tspan></text><text class="r" x="538 544 550 556 562 568 574 580 586 593 598 604 610 616 622 628" y="376 376 376 376 376 376 376 376 376 375.4 376 376 376 376 376 376">UniRef<tspan class="dg">100</tspan><tspan class="us">_</tspan>Q<tspan class="dg">0</tspan>JCS<tspan class="dg">3</tspan></text><text class="r" x="538 544 550 556 562 568 574 580 586 593 598 604 610 616 622 628" y="387 387 387 387 387 387 387 387 387 386.4 387 387 387 387 387 387">UniRef<tspan class="dg">100</tspan><tspan class="us">_</tspan>A<tspan class="dg">3</tspan>AUD<tspan class="dg">5</tspan></text><text class="r" x="538 544 550 556 562 568 574 580 586 593 598 604 610 616 622 628" y="398 398 398 398 398 398 398 398 398 397.4 398 398 398 398 398 398">UniRef<tspan class="dg">100</tspan><tspan class="us">_</tspan>Q<tspan class="dg">8</tspan>H<tspan class="dg">6</tspan>B<tspan class="dg">3</tspan></text><text class="r" x="538 544 550 556 562 568 574 580 586 593 598 604 610 616 622 628" y="409 409 409 409 409 409 409 409 409 408.4 409 409 409 409 409 409">UniRef<tspan class="dg">100</tspan><tspan class="us">_</tspan>C<tspan class="dg">1</tspan>KGA<tspan class="dg">5</tspan></text><text class="r" x="538 544 550 556 562 568 574 580 586 593 598 604 610 616 622 628" y="420 420 420 420 420 420 420 420 420 419.4 420 420 420 420 420 420">UniRef<tspan class="dg">100</tspan><tspan class="us">_</tspan>C<tspan class="dg">0</tspan>HH<tspan class="dg">38</tspan></text><text class="r" x="538 544 550 556 562 568 574 580 586 593 598 604 610 616 622 628" y="431 431 431 431 431 431 431 431 431 430.4 431 431 431 431 431 431">UniRef<tspan class="dg">100</tspan><tspan class="us">_</tspan>Q<tspan class="dg">5</tspan>MD<tspan class="dg">22</tspan></text><text class="r" x="538 544 550 556 562 568 574 580 586 593 598 604 610 616 622 628" y="442 442 442 442 442 442 442 442 442 441.4 442 442 442 442 442 442">UniRef<tspan class="dg">100</tspan><tspan class="us">_</tspan>D<tspan class="dg">0</tspan>E<tspan class="dg">0</tspan>S<tspan class="dg">9</tspan></text><text class="r" x="538 544 550 556 562 568 574 580 586 593 598 604 610 616 622 628" y="453 453 453 453 453 453 453 453 453 452.4 453 453 453 453 453 453">UniRef<tspan class="dg">100</tspan><tspan class="us">_</tspan>C<tspan class="dg">4</tspan>J<tspan class="dg">5</tspan>V<tspan class="dg">6</tspan></text><text class="r" x="538 544 550 556 562 568 574 580 586 593 598 604 610 616 622 628" y="464 464 464 464 464 464 464 464 464 463.4 464 464 464 464 464 464">UniRef<tspan class="dg">100</tspan><tspan class="us">_</tspan>B<tspan class="dg">8</tspan>A<tspan class="dg">2</tspan>L<tspan class="dg">5</tspan></text><text class="r" x="538 544 550 556 562 568 574 580 586 593 598 604 610 616 622 628" y="475 475 475 475 475 475 475 475 475 474.4 475 475 475 475 475 475">UniRef<tspan class="dg">100</tspan><tspan class="us">_</tspan>B<tspan class="dg">4</tspan>FHJ<tspan class="dg">0</tspan></text><text class="r" x="538 544 550 556 562 568 574 580 586 593 598 604 610 616 622 628" y="486 486 486 486 486 486 486 486 486 485.4 486 486 486 486 486 486">UniRef<tspan class="dg">100</tspan><tspan class="us">_</tspan>A<tspan class="dg">9</tspan>Q<tspan class="dg">6</tspan>I<tspan class="dg">9</tspan></text><text class="r" x="538 544 550 556 562 568 574 580 586 593 598 604 610 616 622 628" y="497 497 497 497 497 497 497 497 497 496.4 497 497 497 497 497 497">UniRef<tspan class="dg">100</tspan><tspan class="us">_</tspan>A<tspan class="dg">9</tspan>Q<tspan class="dg">6</tspan>I<tspan class="dg">8</tspan></text><text class="r" x="538 544 550 556 562 568 574 580 586 593 598 604 610 616 622 628" y="508 508 508 508 508 508 508 508 508 507.4 508 508 508 508 508 508">UniRef<tspan class="dg">100</tspan><tspan class="us">_</tspan>Q<tspan class="dg">6</tspan>YXC<tspan class="dg">2</tspan></text><text class="r" x="538 544 550 556 562 568 574 580 586 593 598 604 610 616 622 628" y="519 519 519 519 519 519 519 519 519 518.4 519 519 519 519 519 519">UniRef<tspan class="dg">100</tspan><tspan class="us">_</tspan>B<tspan class="dg">9</tspan>F<tspan class="dg">0</tspan>P<tspan class="dg">2</tspan></text><text class="r" x="538 544 550 556 562 568 574 580 586 593 598 604 610 616 622 628" y="530 530 530 530 530 530 530 530 530 529.4 530 530 530 530 530 530">UniRef<tspan class="dg">100</tspan><tspan class="us">_</tspan>Q<tspan class="dg">2</tspan>I<tspan class="dg">7</tspan>L<tspan class="dg">5</tspan></text><text class="r" x="9 15 21 27 33 39 45 51 57 63 69" y="549">Large gaps:</text><text class="r" x="87 93 99 105 111 117 123 129 135 141 147" y="549">(in Query)/</text><text class="r" x="159 165 171 177 183 189 195 201 207 213 219 225 231" y="549"> (in Subject)</text><text class="r" x="471 477 483 489 495 501 507 513 519" y="549">=<tspan class="dg">100</tspan>char.</text></g>
</svg></body></html>
